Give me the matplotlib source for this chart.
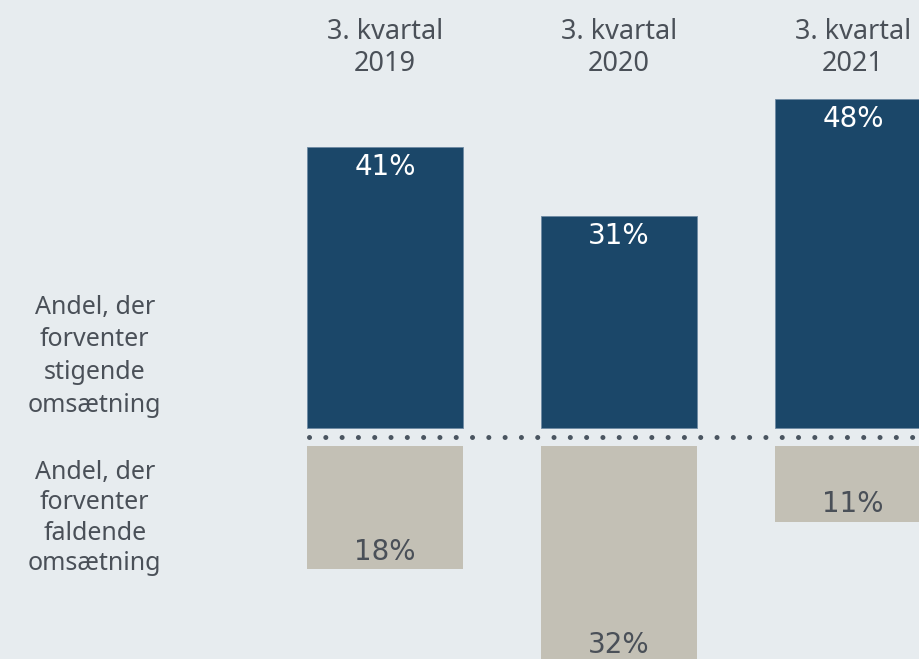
import numpy as np
import matplotlib.pyplot as plt

quarters = ["3. kvartal\n2019", "3. kvartal\n2020", "3. kvartal\n2021"]
rising = [41, 31, 48]
falling = [18, 32, 11]
row_labels = ["Andel, der\nforventer\nstigende\nomsætning",
              "Andel, der\nforventer\nfaldende\nomsætning"]

BG = "#e7ecef"
BLUE = "#1b4769"
GREY = "#c3c0b5"
TEXT = "#4a5058"
GAP = 2.63  # space between the two bar groups (in %)

fig = plt.figure(figsize=(9.19, 6.59), dpi=100, facecolor=BG)
ax = fig.add_axes([0, 0, 1, 1])
ax.set_facecolor(BG)

x = np.arange(len(quarters))
w = 0.667
ax.bar(x, rising, width=w, color=BLUE, edgecolor="#6f8aa3", linewidth=0.6)
ax.bar(x, [-v for v in falling], bottom=-GAP, width=w, color=GREY)

ax.set_xlim(-1.645, 2.282)
ax.set_ylim(-33.7, 62.5)
ax.axis("off")

# dotted separator
ax.plot([-0.325, 2.4], [-1.31, -1.31], color="#4a5560", lw=3.6,
        linestyle=(0, (0.01, 3.25)), dash_capstyle="round", solid_capstyle="round")

for i in x:
    ax.text(i, rising[i] - 2.9, f"{rising[i]}%", ha="center", va="center",
            color="white", fontsize=20, family="DejaVu Sans")
    # keep the label of the long bar inside the picture
    off = 3.0 if falling[i] > 30 else 2.6
    ax.text(i, -GAP - falling[i] + off, f"{falling[i]}%", ha="center", va="center",
            color=TEXT, fontsize=20, family="DejaVu Sans")
    ax.text(i, 55.5, quarters[i], ha="center", va="center", color=TEXT,
            fontsize=19.5, family="Noto Sans", linespacing=1.18)

ax.text(-1.24, 10.5, row_labels[0], ha="center", va="center", color=TEXT,
        fontsize=18, family="Noto Sans", linespacing=1.4)
ax.text(-1.24, -13.1, row_labels[1], ha="center", va="center", color=TEXT,
        fontsize=18, family="Noto Sans", linespacing=1.28)

fig.savefig("out.png", dpi=100, facecolor=BG)
